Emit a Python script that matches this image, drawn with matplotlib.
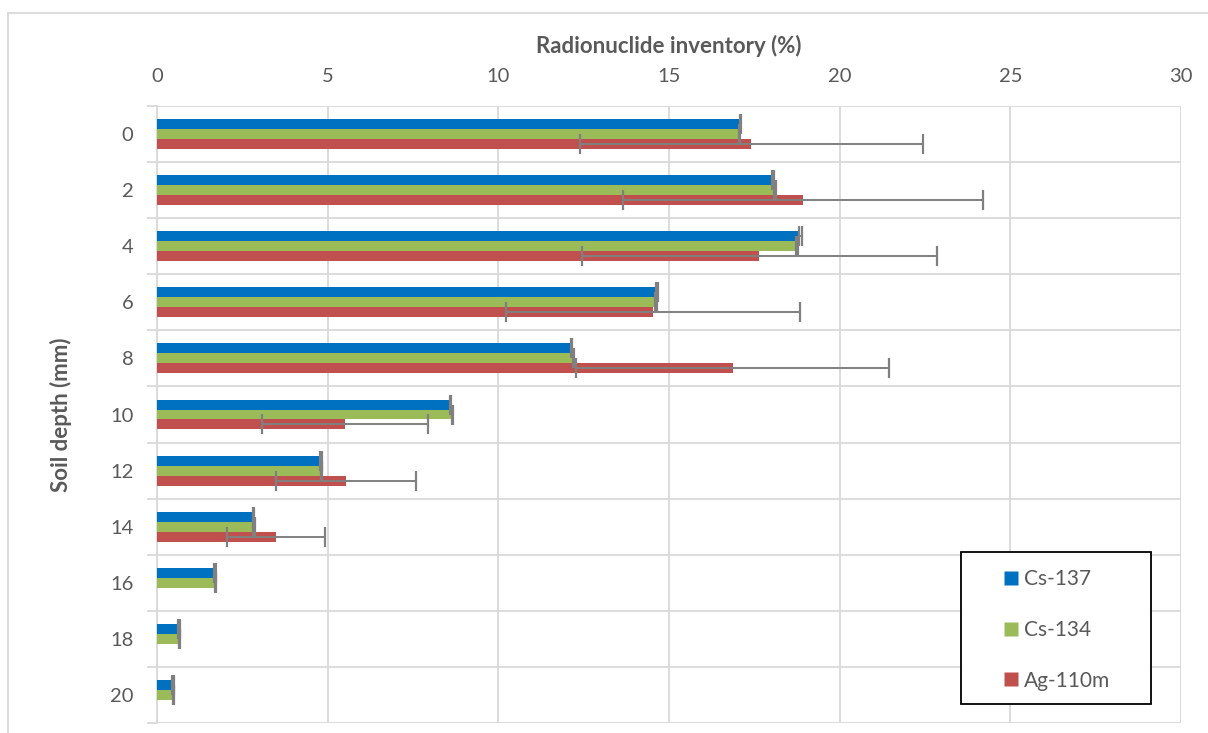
import numpy as np
import matplotlib
matplotlib.use("Agg")
import matplotlib.pyplot as plt
from matplotlib.lines import Line2D
from matplotlib.patches import Rectangle

plt.rcParams['font.family'] = ['Lato', 'DejaVu Sans']

# ---- data ----
depths = ["0", "2", "4", "6", "8", "10", "12", "14", "16", "18", "20"]
cs137 = [17.10, 18.05, 18.85, 14.65, 12.15, 8.60, 4.80, 2.82, 1.70, 0.64, 0.47]
cs134 = [17.07, 18.10, 18.75, 14.62, 12.20, 8.65, 4.82, 2.84, 1.72, 0.65, 0.48]
ag110m = [17.41, 18.92, 17.64, 14.53, 16.87, 5.51, 5.54, 3.49, np.nan, np.nan, np.nan]
cs137_err = [0.02, 0.02, 0.04, 0.02, 0.02, 0.02, 0.02, 0.02, 0.02, 0.02, 0.02]
cs134_err = [0.02, 0.03, 0.02, 0.02, 0.02, 0.02, 0.02, 0.02, 0.02, 0.02, 0.02]
ag110m_err = [5.02, 5.28, 5.20, 4.30, 4.58, 2.44, 2.04, 1.44, np.nan, np.nan, np.nan]
series_names = ["Cs-137", "Cs-134", "Ag-110m"]
series_colors = ["#0070C0", "#9BBB59", "#C0504D"]
xticks = [0, 5, 10, 15, 20, 25, 30]

W, H = 1208, 733
fig = plt.figure(figsize=(W / 100, H / 100), dpi=100)
ax = fig.add_axes([157 / W, 10 / H, (1181 - 157) / W, (723 - 106) / H])

grid_c = "#D9D9D9"
text_c = "#595959"
err_c = "#808080"

y = np.arange(len(depths))
bh = 0.178
offsets = [-bh, 0.0, bh]
vals = [cs137, cs134, ag110m]
errs = [cs137_err, cs134_err, ag110m_err]
handles = []
for v, e, off, col, name in zip(vals, errs, offsets, series_colors, series_names):
    ax.barh(y + off, v, height=bh, color=col, edgecolor='none', zorder=3, label=name)
    ax.errorbar(v, y + off, xerr=e, fmt='none', ecolor=err_c, elinewidth=1.4,
                capsize=7.0, capthick=1.6, zorder=4)
    handles.append(Line2D([], [], marker='s', linestyle='none', markersize=10,
                          markerfacecolor=col, markeredgecolor='none', label=name))

ax.set_xlim(0, 30)
ax.set_ylim(len(depths) - 0.5, -0.5)
ax.set_xticks(xticks)
ax.set_xticklabels([str(t) for t in xticks])
ax.xaxis.tick_top()
ax.xaxis.set_label_position('top')
ax.tick_params(axis='x', length=0, pad=15, labelsize=14.5, labelcolor=text_c)
ax.set_yticks(y)
ax.set_yticklabels(depths)
ax.set_yticks(np.arange(-0.5, len(depths), 1.0), minor=True)
ax.tick_params(axis='y', which='major', length=0, pad=17, labelsize=14.5, labelcolor=text_c)
ax.tick_params(axis='y', which='minor', length=7, width=1.3, color=grid_c)

ax.grid(axis='x', which='major', color=grid_c, linewidth=1.3, zorder=0)
ax.grid(axis='y', which='minor', color=grid_c, linewidth=1.3, zorder=0)
ax.set_axisbelow(True)
for s in ['top', 'right', 'bottom']:
    ax.spines[s].set_visible(False)
ax.spines['left'].set_color(grid_c)
ax.spines['left'].set_linewidth(1.3)

ax.set_xlabel("Radionuclide inventory (%)", fontsize=16, fontweight='bold', color=text_c, labelpad=11)
ax.set_ylabel("Soil depth (mm)", fontsize=16, fontweight='bold', color=text_c, labelpad=27)

# legend frame and entries
x0 = (961 - 157) / 1024
y0 = (723 - 704) / 617
ax.add_patch(Rectangle((x0, y0), (1151 - 961) / 1024, (704 - 552) / 617,
                       transform=ax.transAxes, facecolor='white', edgecolor='black',
                       linewidth=1.3, zorder=5, clip_on=False))
leg = ax.legend(handles=handles, loc='upper left',
                bbox_to_anchor=((1004 - 157) / 1024, (723 - 569) / 617),
                frameon=False, borderpad=0, borderaxespad=0, handlelength=0.7,
                handletextpad=0.25, labelspacing=1.48, fontsize=15, labelcolor=text_c)
leg.set_zorder(6)

# outer chart border (top and left)
fig.add_artist(Line2D([8 / W, 1.0], [1 - 13 / H, 1 - 13 / H], transform=fig.transFigure,
                      color=grid_c, linewidth=1.3))
fig.add_artist(Line2D([8 / W, 8 / W], [0.0, 1 - 13 / H], transform=fig.transFigure,
                      color=grid_c, linewidth=1.3))

fig.savefig("out.png", dpi=100)
